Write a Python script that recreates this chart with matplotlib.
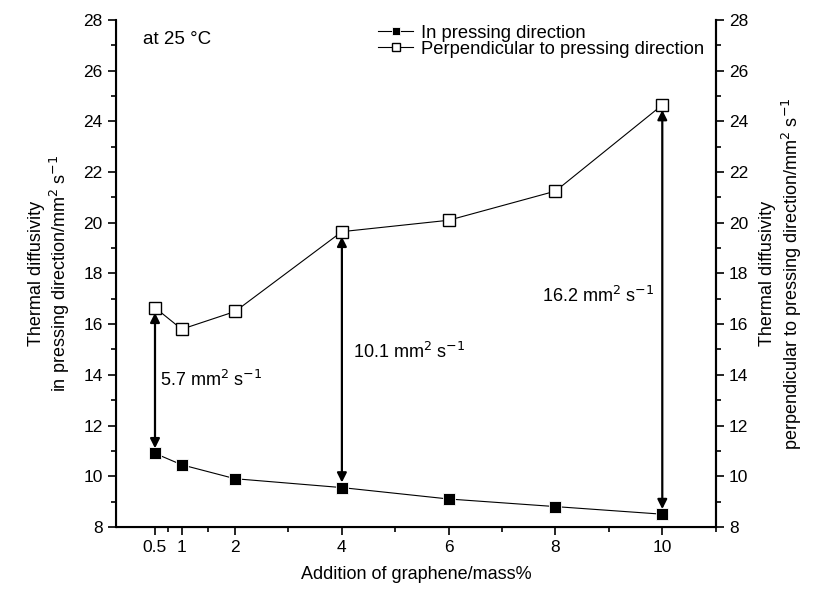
import numpy as np
import matplotlib.pyplot as plt
from matplotlib.ticker import FixedLocator, MultipleLocator

plt.rcParams['font.family'] = ['Liberation Sans', 'DejaVu Sans']

graphene = [0.5, 1, 2, 4, 6, 8, 10]
in_pressing = [10.9, 10.45, 9.9, 9.55, 9.1, 8.8, 8.5]
perpendicular = [16.65, 15.8, 16.5, 19.65, 20.1, 21.25, 24.65]
xticks = [0.5, 1, 2, 4, 6, 8, 10]
xminor = [0.75, 1.5, 3, 5, 7, 9, 11]
yticks = [8, 10, 12, 14, 16, 18, 20, 22, 24, 26, 28]

# arrows between the two series and their labels
arrow_idx = [0, 3, 6]
diff_labels = ['5.7 mm$^{2}$ s$^{-1}$', '10.1 mm$^{2}$ s$^{-1}$', '16.2 mm$^{2}$ s$^{-1}$']
label_pos = [(0.6, 13.8), (4.2, 14.9), (7.75, 17.1)]

fig = plt.figure(figsize=(8.17, 5.90), dpi=100)
ax = fig.add_axes([0.142, 0.107, 0.734, 0.859])

ax.plot(graphene, in_pressing, '-s', color='black', lw=0.8, ms=8,
        mfc='black', mec='white', mew=0.6, label='In pressing direction')
ax.plot(graphene, perpendicular, '-s', color='black', lw=0.8, ms=8,
        mfc='white', mec='black', mew=1.0, label='Perpendicular to pressing direction')

for i, lab, (tx, ty) in zip(arrow_idx, diff_labels, label_pos):
    ax.annotate('', xy=(graphene[i], in_pressing[i] + 0.2), xytext=(graphene[i], perpendicular[i] - 0.2),
                arrowprops=dict(arrowstyle='<|-|>', lw=1.6, color='black', mutation_scale=14,
                                shrinkA=0, shrinkB=0))
    ax.text(tx, ty, lab, fontsize=13, ha='left', va='center')

ax.text(0.27, 27.25, 'at 25 °C', fontsize=13.5, ha='left', va='center')

ax.set_xlim(-0.23, 11)
ax.set_ylim(8, 28)
ax.xaxis.set_major_locator(FixedLocator(xticks))
ax.xaxis.set_minor_locator(FixedLocator(xminor))
ax.set_xticklabels(['0.5', '1', '2', '4', '6', '8', '10'])
ax.yaxis.set_major_locator(FixedLocator(yticks))
ax.yaxis.set_minor_locator(MultipleLocator(1))
ax.spines['top'].set_visible(False)
for s in ['left', 'right', 'bottom']:
    ax.spines[s].set_linewidth(1.5)
ax.tick_params(which='major', direction='out', length=6, width=1.2, labelsize=12.5)
ax.tick_params(which='minor', direction='out', length=3.5, width=1.2)

ax.set_xlabel('Addition of graphene/mass%', fontsize=13, labelpad=8)
ax.set_ylabel('Thermal diffusivity\nin pressing direction/mm$^{2}$ s$^{-1}$', fontsize=13, labelpad=8)

ax2 = ax.twinx()
ax2.set_ylim(8, 28)
ax2.yaxis.set_major_locator(FixedLocator(yticks))
ax2.yaxis.set_minor_locator(MultipleLocator(1))
ax2.spines['top'].set_visible(False)
ax2.spines['right'].set_linewidth(1.5)
ax2.tick_params(which='major', direction='out', length=6, width=1.2, labelsize=12.5)
ax2.tick_params(which='minor', direction='out', length=3.5, width=1.2)
ax2.set_ylabel('Thermal diffusivity\nperpendicular to pressing direction/mm$^{2}$ s$^{-1}$',
               fontsize=13, labelpad=8)

fig.legend(*ax.get_legend_handles_labels(), loc='upper left', bbox_to_anchor=(0.452, 0.974),
           frameon=False, fontsize=13.2, markerscale=0.75, numpoints=1,
           handlelength=1.9, handletextpad=0.4, labelspacing=-0.05, borderpad=0)

fig.savefig('out.png', dpi=100)
